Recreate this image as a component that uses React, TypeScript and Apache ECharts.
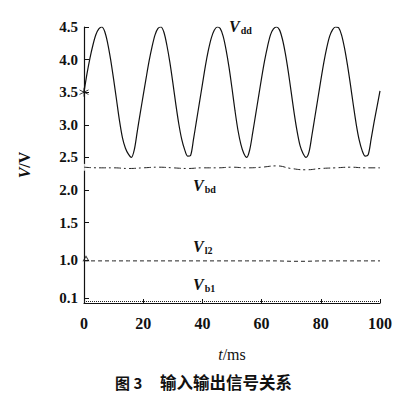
import React, { useEffect, useRef } from "react";
import * as echarts from "echarts";

// ---- data ----
const timeMs: number[] = Array.from({ length: 101 }, (_, i) => i);
const vdd: number[] = [
  3.50, 3.78, 4.02, 4.22, 4.38, 4.47, 4.50, 4.43, 4.25, 4.00,
  3.70, 3.38, 3.06, 2.80, 2.64, 2.55, 2.50, 2.62, 2.90, 3.18,
  3.45, 3.72, 3.98, 4.20, 4.38, 4.48, 4.50, 4.42, 4.22, 3.96,
  3.65, 3.32, 3.02, 2.78, 2.62, 2.52, 2.53, 2.78, 3.06, 3.34,
  3.62, 3.90, 4.14, 4.33, 4.45, 4.50, 4.48, 4.36, 4.15, 3.88,
  3.56, 3.22, 2.92, 2.70, 2.56, 2.50, 2.62, 2.88, 3.16, 3.44,
  3.72, 3.98, 4.20, 4.38, 4.47, 4.50, 4.46, 4.32, 4.10, 3.82,
  3.50, 3.18, 2.90, 2.68, 2.56, 2.50, 2.58, 2.84, 3.12, 3.40,
  3.68, 3.95, 4.18, 4.36, 4.46, 4.50, 4.49, 4.38, 4.18, 3.92,
  3.62, 3.30, 3.00, 2.76, 2.60, 2.52, 2.54, 2.78, 3.04, 3.28,
  3.52,
];
const slowTime: number[] = [0, 5, 10, 15, 20, 25, 30, 35, 40, 45, 50, 55, 60, 65, 70, 75, 80, 85, 90, 95, 100];
const vbd: number[] = [2.35, 2.34, 2.34, 2.33, 2.34, 2.35, 2.34, 2.33, 2.34, 2.34, 2.35, 2.34, 2.35, 2.37, 2.33, 2.31, 2.33, 2.34, 2.35, 2.34, 2.34];
const vl2: number[] = [0.98, 0.98, 0.98, 0.98, 0.98, 0.98, 0.98, 0.98, 0.98, 0.98, 0.98, 0.98, 0.98, 0.98, 0.97, 0.97, 0.98, 0.98, 0.98, 0.98, 0.98];
const vb1: number[] = [0.03, 0.03, 0.03, 0.03, 0.03, 0.03, 0.03, 0.03, 0.03, 0.03, 0.03, 0.03, 0.03, 0.03, 0.03, 0.03, 0.03, 0.03, 0.03, 0.03, 0.03];

const yTickVolts: number[] = [0.1, 1.0, 1.5, 2.0, 2.5, 3.0, 3.5, 4.0, 4.5];
const yTickLabels: string[] = ["0.1", "1.0", "1.5", "2.0", "2.5", "3.0", "3.5", "4.0", "4.5"];
const xTicks: number[] = [0, 20, 40, 60, 80, 100];

// broken (piecewise) voltage axis of the original figure
const breakVolt: number[] = [0, 0.1, 1.0, 1.5, 4.5];
const breakCoord: number[] = [0.267, 0.344, 0.926, 1.5, 4.5];

function toCoord(v: number): number {
  for (let i = 0; i < breakVolt.length - 1; i++) {
    if (v <= breakVolt[i + 1] || i === breakVolt.length - 2) {
      const f = (v - breakVolt[i]) / (breakVolt[i + 1] - breakVolt[i]);
      return breakCoord[i] + f * (breakCoord[i + 1] - breakCoord[i]);
    }
  }
  return v;
}

function labelFor(c: number): string {
  let best = 0;
  let bd = Infinity;
  yTickVolts.forEach((v, i) => {
    const d = Math.abs(toCoord(v) - c);
    if (d < bd) { bd = d; best = i; }
  });
  return yTickLabels[best];
}

const serif = "'Liberation Serif', 'DejaVu Serif', serif";

export default function App() {
  const ref = useRef<HTMLDivElement>(null);
  useEffect(() => {
    if (!ref.current) return;
    const chart = echarts.init(ref.current, null, { renderer: "svg" });
    const tickCoords = yTickVolts.map(toCoord);
    const vText = (sub: string) => ({
      text: `{v|V}{s|${sub}}`,
      rich: {
        v: { fontFamily: serif, fontStyle: "italic", fontWeight: "bold", fontSize: 16, fill: "#111" },
        s: { fontFamily: serif, fontWeight: "bold", fontSize: 10, fill: "#111", verticalAlign: "bottom", padding: [8, 0, 0, 1] },
      },
    });
    chart.setOption({
      animation: false,
      backgroundColor: "#ffffff",
      grid: { left: 84, right: 32, top: 27, bottom: 94 },
      xAxis: {
        type: "value",
        min: 0,
        max: 100,
        interval: 20,
        name: "{i|t}/ms",
        nameLocation: "middle",
        nameGap: 43,
        nameTextStyle: {
          fontFamily: serif, fontSize: 16, color: "#111",
          rich: { i: { fontFamily: serif, fontStyle: "italic", fontSize: 16, color: "#111" } },
        },
        axisLine: { lineStyle: { color: "#111", width: 1.2 } },
        axisTick: { inside: true, length: 4, lineStyle: { color: "#111" }, customValues: xTicks },
        axisLabel: { fontFamily: serif, fontSize: 16, fontWeight: "bold", color: "#111", margin: 12, customValues: xTicks },
        splitLine: { show: false },
      },
      yAxis: {
        type: "value",
        min: breakCoord[0],
        max: 4.5,
        name: "{i|V}/V",
        nameLocation: "middle",
        nameRotate: 90,
        nameGap: 52,
        nameTextStyle: {
          fontFamily: serif, fontSize: 16, color: "#111", fontWeight: "bold",
          rich: { i: { fontFamily: serif, fontStyle: "italic", fontWeight: "bold", fontSize: 16, color: "#111" } },
        },
        axisLine: { lineStyle: { color: "#111", width: 1.2 } },
        axisTick: { inside: true, length: 5, lineStyle: { color: "#111" }, customValues: tickCoords },
        axisLabel: {
          fontFamily: serif, fontSize: 15, fontWeight: "bold", color: "#111", margin: 6,
          customValues: tickCoords,
          formatter: (val: number) => labelFor(val),
        },
        splitLine: { show: false },
      },
      series: [
        {
          type: "line",
          name: "Vdd",
          data: timeMs.map((t, i) => [t, toCoord(vdd[i])]),
          smooth: 0.3,
          symbol: "none",
          lineStyle: { color: "#111", width: 1.2 },
        },
        {
          type: "line",
          name: "Vbd",
          data: slowTime.map((t, i) => [t, toCoord(vbd[i])]),
          smooth: true,
          symbol: "none",
          lineStyle: { color: "#222", width: 1, type: [7, 3, 2, 3] },
        },
        {
          type: "line",
          name: "Vl2",
          data: slowTime.map((t, i) => [t, toCoord(vl2[i])]),
          symbol: "none",
          lineStyle: { color: "#222", width: 1, type: [4, 3] },
        },
        {
          type: "line",
          name: "Vb1",
          data: slowTime.map((t, i) => [t, toCoord(vb1[i])]),
          symbol: "none",
          lineStyle: { color: "#222", width: 1.2, type: [1, 1] },
        },
        {
          type: "scatter",
          name: "start markers",
          silent: true,
          data: [
            { value: [timeMs[0], toCoord(vdd[0])], symbol: "path://M5,0L5,10M0.7,2.5L9.3,7.5M0.7,7.5L9.3,2.5", symbolSize: 9 },
            { value: [slowTime[0], toCoord(vbd[0])], symbol: "emptyCircle", symbolSize: 7 },
            { value: [slowTime[0], toCoord(vl2[0])], symbol: "path://M0,6L4,0L8,6", symbolSize: [6, 5], symbolOffset: [2, -2] },
          ],
          itemStyle: { color: "rgba(0,0,0,0)", borderColor: "#111", borderWidth: 1 },
        },
      ],
      graphic: [
        { type: "text", left: 229, top: 18, style: vText("dd") },
        { type: "text", left: 193, top: 177, style: vText("bd") },
        { type: "text", left: 193, top: 238, style: vText("l2") },
        { type: "text", left: 193, top: 276, style: vText("b1") },
        {
          type: "text", left: 115, top: 375,
          style: {
            text: "图 3",
            fontFamily: "'Noto Sans CJK SC', sans-serif",
            fontWeight: "bold",
            fontSize: 15,
            fill: "#111",
          },
        },
        {
          type: "text", left: 160, top: 374,
          style: {
            text: "输入输出信号关系",
            fontFamily: "'Noto Sans CJK SC', sans-serif",
            fontWeight: "bold",
            fontSize: 16.5,
            fill: "#111",
          },
        },
      ],
    });
    return () => chart.dispose();
  }, []);
  return <div ref={ref} style={{ position: "fixed", left: 0, top: 0, width: 412, height: 397 }} />;
}
